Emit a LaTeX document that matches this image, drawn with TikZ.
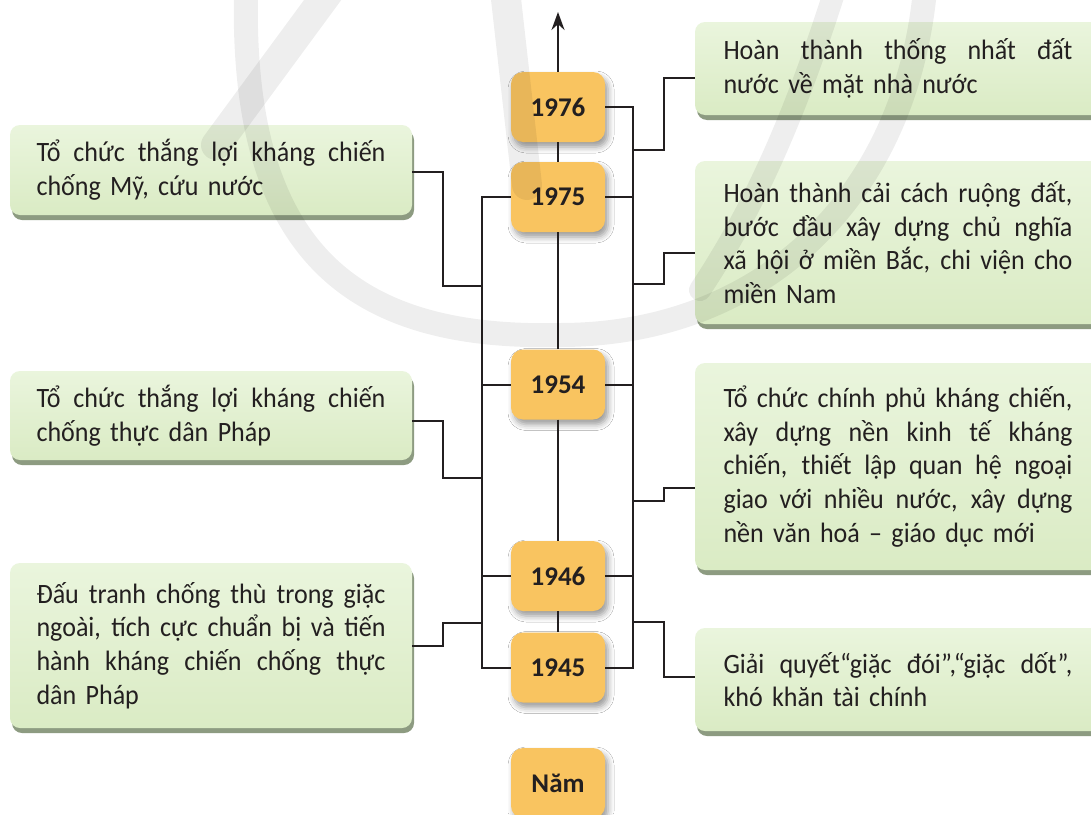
\documentclass[tikz,border=0pt]{standalone}
\usepackage{fontspec}
\setmainfont{Carlito}[FakeStretch=0.93]
\newfontfamily\yrfont{Carlito}
\usetikzlibrary{shadows,shadows.blur,arrows.meta,calc}
\definecolor{yfill}{HTML}{F9C460}
\definecolor{txt}{HTML}{231F20}
\definecolor{gtop}{HTML}{EAF5DD}
\definecolor{gbot}{HTML}{DAEBC4}
\definecolor{gshad}{HTML}{8D9B81}
\newcommand\evsize{\fontsize{28pt}{33.7pt}\selectfont}
\newcommand\yrsize{\yrfont\fontsize{27pt}{30pt}\selectfont\bfseries}
\newcommand\jl[1]{\makebox[349pt][s]{\spaceskip=0pt\xspaceskip=0pt #1}}
\begin{document}
\begin{tikzpicture}[x=1pt,y=-1pt,
  yearbox/.style={rounded corners=12pt, fill=yfill, minimum width=94pt, minimum height=70pt, inner sep=0pt, font=\yrsize, text=txt,
    blur shadow={shadow xshift=3pt, shadow yshift=-5pt, shadow blur radius=6pt, shadow opacity=40}},
  evbox/.style={rounded corners=10pt, top color=gtop, bottom color=gbot, inner sep=0pt, font=\evsize, text=txt, align=left, text width=349pt,
    drop shadow={shadow xshift=2pt, shadow yshift=-5pt, fill=gshad, opacity=1}},
  conn/.style={line width=2pt, draw=txt},
  wm/.style={draw=black, opacity=0.065, line cap=round}
]
\fill[white] (0,0) rectangle (1091,814);
\useasboundingbox (0,0) rectangle (1091,814);

% event boxes, left
\node[evbox, minimum width=402pt, minimum height=90pt] (L1) at (211,170) {\jl{Tổ chức thắng lợi kháng chiến}\\chống Mỹ, cứu nước};
\node[evbox, minimum width=402pt, minimum height=89pt] (L2) at (211,415.5) {\jl{Tổ chức thắng lợi kháng chiến}\\chống thực dân Pháp};
\node[evbox, minimum width=402pt, minimum height=165pt] (L3) at (211,645.5) {\jl{Đấu tranh chống thù trong giặc}\\\jl{ngoài, tích cực chuẩn bị và tiến}\\\jl{hành kháng chiến chống thực}\\dân Pháp};
% event boxes, right
\node[evbox, minimum width=406pt, minimum height=93pt] (R1) at (898,68.5) {\jl{Hoàn thành thống nhất đất}\\nước về mặt nhà nước};
\node[evbox, minimum width=406pt, minimum height=163pt] (R2) at (898,242.5) {\jl{Hoàn thành cải cách ruộng đất,}\\\jl{bước đầu xây dựng chủ nghĩa}\\\jl{xã hội ở miền Bắc, chi viện cho}\\miền Nam};
\node[evbox, minimum width=406pt, minimum height=207pt] (R3) at (898,466.5) {\jl{Tổ chức chính phủ kháng chiến,}\\\jl{xây dựng nền kinh tế kháng}\\\jl{chiến, thiết lập quan hệ ngoại}\\\jl{giao với nhiều nước, xây dựng}\\nền văn hoá – giáo dục mới};
\node[evbox, minimum width=406pt, minimum height=103pt] (R4) at (898,679.5) {\jl{Giải quyết“giặc đói”,“giặc dốt”,}\\khó khăn tài chính};

% year boxes
\node[yearbox] (y76) at (558,107) {1976};
\node[yearbox] (y75) at (558,197) {1975};
\node[yearbox] (y54) at (558,384.5) {1954};
\node[yearbox] (y46) at (558,576) {1946};
\node[yearbox] (y45) at (558,667.5) {1945};
\node[yearbox] (nam) at (558,783) {Năm};

% axis
\coordinate (tip) at (558,12);
\draw[conn, -{Stealth[length=18pt,width=13pt]}] (y76.north) -- (tip);
\draw[conn] (y76.south) -- (y75.north);
\draw[conn] (y75.south) -- (y54.north);
\draw[conn] (y54.south) -- (y46.north);
\draw[conn] (y46.south) -- (y45.north);

% rails
\coordinate (LT) at (482,197);
\coordinate (LB) at (482,667.5);
\coordinate (RT) at (633,107);
\coordinate (RB) at (633,667.5);
\draw[conn] (y75.west) -- (LT) -- (LB) -- (y45.west);
\draw[conn] (y54.west) -- (y54.west -| LT);
\draw[conn] (y46.west) -- (y46.west -| LT);
\draw[conn] (y76.east) -- (RT) -- (RB) -- (y45.east);
\draw[conn] (y75.east) -- (y75.east -| RT);
\draw[conn] (y54.east) -- (y54.east -| RT);
\draw[conn] (y46.east) -- (y46.east -| RT);

% rail attachment points
\coordinate (a1) at (482,286);
\coordinate (a2) at (482,478);
\coordinate (a3) at (482,623);
\coordinate (b1) at (633,150);
\coordinate (b2) at (633,284);
\coordinate (b3) at (633,501);
\coordinate (b4) at (633,622);

% connectors left
\draw[conn] ([yshift=-2pt]L1.east) -- ++(31,0) |- (a1);
\draw[conn] ([yshift=-5.5pt]L2.east) -- ++(31,0) |- (a2);
\draw[conn] (L3.east) -- ++(31,0) |- (a3);
% connectors right
\draw[conn] (b1) -- ++(31,0) |- ([yshift=-9.5pt]R1.west);
\draw[conn] (b2) -- ++(31,0) |- ([yshift=-10.5pt]R2.west);
\draw[conn] (b3) -- ++(31,0) |- ([yshift=-21.5pt]R3.west);
\draw[conn] (b4) -- ++(31,0) |- ([yshift=2.5pt]R4.west);

% faint watermark overlay
\draw[wm, line width=24pt] (246,-10) .. controls (240,250) and (350,340) .. (560,335) .. controls (760,335) and (905,200) .. (925,-10);
\draw[wm, line width=30pt] (330,-10) -- (216,145);
\draw[wm, line width=30pt] (505,-10) -- (527,185);
\draw[wm, line width=22pt] (835,-10) .. controls (800,100) and (760,200) .. (700,290);
\end{tikzpicture}
\end{document}
